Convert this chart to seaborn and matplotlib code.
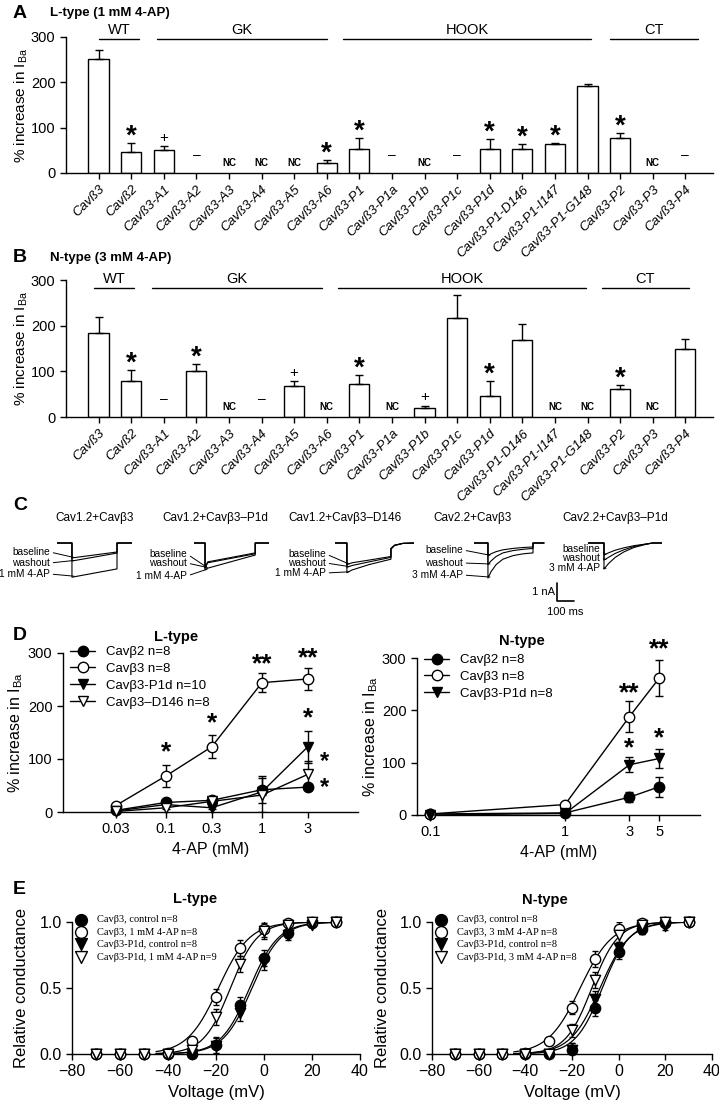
import numpy as np
import pandas as pd
import seaborn as sns
import matplotlib.pyplot as plt

# ---------------- data ----------------
constructs = ['Cavß3', 'Cavß2', 'Cavß3-A1', 'Cavß3-A2', 'Cavß3-A3', 'Cavß3-A4',
              'Cavß3-A5', 'Cavß3-A6', 'Cavß3-P1', 'Cavß3-P1a', 'Cavß3-P1b',
              'Cavß3-P1c', 'Cavß3-P1d', 'Cavß3-P1-D146', 'Cavß3-P1-I147',
              'Cavß3-P1-G148', 'Cavß3-P2', 'Cavß3-P3', 'Cavß3-P4']
nan = np.nan

# A: L-type, 1 mM 4-AP (% increase in IBa, mean and sem)
l_mean = [252, 47, 50, nan, nan, nan, nan, 23, 54, nan, nan, nan, 52, 52, 64, 193, 78, nan, nan]
l_sem = [20, 20, 9, 0, 0, 0, 0, 5, 24, 0, 0, 0, 24, 11, 3, 3, 11, 0, 0]
l_mark = ['', '*', '+', '-', 'NC', 'NC', 'NC', '*', '*', '-', 'NC', '-', '*', '*', '*', '', '*', 'NC', '-']

# B: N-type, 3 mM 4-AP
n_mean = [185, 79, nan, 101, nan, nan, 68, nan, 73, nan, 20, 216, 47, 169, nan, nan, 61, nan, 150]
n_sem = [34, 23, 0, 16, 0, 0, 10, 0, 20, 0, 5, 51, 32, 35, 0, 0, 8, 0, 20]
n_mark = ['', '*', '-', '*', 'NC', '-', '+', 'NC', '*', 'NC', '+', '', '*', '', 'NC', 'NC', '*', 'NC', '']

groups = ['WT', 'GK', 'HOOK', 'CT']
l_group_span = [(0.0, 1.25), (1.8, 7.0), (7.5, 15.1), (15.7, 18.4)]
n_group_span = [(-0.15, 1.1), (1.65, 6.85), (7.35, 14.95), (15.45, 18.1)]

# C: example current traces (time in ms, current in nA)
c_titles = ['Cav1.2+Cavβ3', 'Cav1.2+Cavβ3–P1d', 'Cav1.2+Cavβ3–D146', 'Cav2.2+Cavβ3', 'Cav2.2+Cavβ3–P1d']
c_drug = ['1 mM 4-AP', '1 mM 4-AP', '1 mM 4-AP', '3 mM 4-AP', '3 mM 4-AP']
tr_time = [
    [0, 88, 88, 353, 353, 441],
    [0, 65, 65, 80, 360, 360, 440],
    [0, 70, 70, 100, 200, 329, 329, 350, 400, 465],
    [0, 82, 82, 100, 130, 170, 230, 290, 347, 347, 412],
    [0, 94, 94, 120, 160, 210, 270, 330, 380, 435],
]
tr_base = [
    [0, 0, -0.83, -0.5, 0, 0],
    [0, 0, -1.4, -1.05, -0.55, 0, 0],
    [0, 0, -1.2, -1.1, -0.95, -0.75, -0.3, -0.12, -0.02, 0],
    [0, 0, -0.7, -0.6, -0.48, -0.38, -0.3, -0.25, -0.22, 0, 0],
    [0, 0, -0.67, -0.55, -0.4, -0.27, -0.15, -0.07, 0, 0],
]
tr_wash = [
    [0, 0, -1.0, -0.56, 0, 0],
    [0, 0, -1.4, -1.1, -0.6, 0, 0],
    [0, 0, -1.35, -1.25, -1.05, -0.8, -0.32, -0.13, -0.02, 0],
    [0, 0, -1.2, -1.0, -0.75, -0.55, -0.42, -0.35, -0.3, 0, 0],
    [0, 0, -0.95, -0.8, -0.58, -0.38, -0.2, -0.08, 0, 0],
]
tr_drug = [
    [0, 0, -1.9, -1.44, 0, 0],
    [0, 0, -1.5, -1.4, -0.67, 0, 0],
    [0, 0, -1.65, -1.5, -1.2, -0.9, -0.35, -0.14, -0.02, 0],
    [0, 0, -1.95, -1.6, -1.2, -0.9, -0.7, -0.6, -0.55, 0, 0],
    [0, 0, -1.45, -1.15, -0.8, -0.5, -0.25, -0.1, 0, 0],
]
scale_na = 1
scale_ms = 100

# D: dose response
conc_l = [0.03, 0.1, 0.3, 1, 3]
dl_b2 = [3, 18, 22, 42, 47]
dl_b2_err = [2, 5, 5, 25, 5]
dl_b3 = [12, 68, 123, 244, 251]
dl_b3_err = [3, 20, 22, 18, 20]
dl_p1d = [2, 14, 8, 38, 123]
dl_p1d_err = [1, 3, 3, 5, 30]
dl_d146 = [1, 8, 20, 32, 71]
dl_d146_err = [1, 3, 3, 32, 25]
dl_star_x = [0.1, 0.3, 1, 3, 3, 3, 3]
dl_star_y = [112, 167, 278, 290, 176, 95, 46]
dl_star = ['*', '*', '**', '**', '*', '*', '*']

conc_n = [0.1, 1, 3, 5]
dn_b2 = [2, 4, 34, 54]
dn_b2_err = [1, 1, 10, 19]
dn_b3 = [2, 20, 188, 262]
dn_b3_err = [2, 3, 29, 35]
dn_p1d = [0, 3, 96, 108]
dn_p1d_err = [1, 1, 14, 19]
dn_star_x = [3, 5, 3, 5]
dn_star_y = [233, 316, 128, 147]
dn_star = ['**', '**', '*', '*']

# E: activation curves
volts = [-70, -60, -50, -40, -30, -20, -10, 0, 10, 20, 30]
el_b3_ctrl = [0, 0, 0, 0, 0, 0.07, 0.37, 0.73, 0.92, 0.99, 1.0]
el_b3_drug = [0, 0, 0, 0.01, 0.10, 0.43, 0.80, 0.95, 0.99, 1.0, 1.0]
el_p1d_ctrl = [0, 0, 0, 0, 0, 0.06, 0.31, 0.70, 0.90, 0.98, 1.0]
el_p1d_drug = [0, 0, 0, 0, 0.03, 0.28, 0.68, 0.93, 0.98, 1.0, 1.0]
el_err = [0.01, 0.01, 0.01, 0.01, 0.03, 0.06, 0.06, 0.06, 0.04, 0.02, 0.01]
en_b3_ctrl = [0, 0, 0, 0, 0, 0.03, 0.35, 0.77, 0.95, 0.99, 1.0]
en_b3_drug = [0, 0, 0, 0.01, 0.10, 0.35, 0.72, 0.95, 0.99, 1.0, 1.0]
en_p1d_ctrl = [0, 0, 0, 0, 0, 0.03, 0.42, 0.80, 0.95, 0.97, 1.0]
en_p1d_drug = [0, 0, 0, 0, 0, 0.18, 0.56, 0.90, 0.98, 1.0, 1.0]
en_err = [0.01, 0.01, 0.01, 0.01, 0.03, 0.05, 0.06, 0.05, 0.04, 0.03, 0.01]
# Boltzmann fits: V1/2 (mV), slope k (mV)
el_fit = [(-6, 6.0), (-19, 6.5), (-5, 6.0), (-14, 5.6)]
en_fit = [(-7, 5.8), (-16.5, 6.9), (-8, 6.3), (-11.5, 5.6)]

# ---------------- style ----------------
sns.set_theme(style='ticks', rc={
    'axes.linewidth': 1.0, 'axes.edgecolor': 'black',
    'xtick.major.width': 1.0, 'ytick.major.width': 1.0,
    'xtick.major.size': 4, 'ytick.major.size': 4,
    'xtick.color': 'black', 'ytick.color': 'black',
    'text.color': 'black', 'axes.labelcolor': 'black'})
plt.rcParams['font.family'] = ['Liberation Sans', 'DejaVu Sans']
plt.rcParams['mathtext.fontset'] = 'custom'
plt.rcParams['mathtext.rm'] = 'Liberation Sans'
plt.rcParams['mathtext.it'] = 'Liberation Sans:italic'

W, H = 719, 1104
fig = plt.figure(figsize=(W / 100, H / 100), dpi=100)


def box(x0, y0, x1, y1):
    # pixel box (top-left origin) -> figure fraction rect
    return [x0 / W, 1 - y1 / H, (x1 - x0) / W, (y1 - y0) / H]


def ftext(x, y, s, **kw):
    fig.text(x / W, 1 - y / H, s, **kw)


ylab = r'% increase in I$_{\mathrm{Ba}}$'
narrow = ['Liberation Sans Narrow', 'Liberation Sans']


# ---------------- A and B: bar charts ----------------
def bar_panel(rect, means, sems, marks, spans, gy):
    ax = fig.add_axes(rect)
    df = pd.DataFrame({'construct': constructs, 'value': means}).dropna()
    sns.barplot(data=df, x='construct', y='value', order=constructs, color='white',
                edgecolor='black', linewidth=1.0, width=0.62, errorbar=None,
                saturation=1, ax=ax)
    x = np.arange(len(constructs))
    m = np.array(means, dtype=float)
    e = np.array(sems, dtype=float)
    ok = ~np.isnan(m)
    ax.errorbar(x[ok], m[ok], yerr=[np.zeros(ok.sum()), e[ok]], fmt='none',
                ecolor='black', elinewidth=1.0, capsize=3, capthick=1.0)
    for i, mk in enumerate(marks):
        top = 0 if np.isnan(m[i]) else m[i] + e[i]
        if mk == '*':
            ax.text(i, top + 14, '*', ha='center', va='center', fontsize=20, fontweight='bold')
        elif mk == '+':
            ax.text(i, top + 18, '+', ha='center', va='center', fontsize=11)
        elif mk == 'NC':
            ax.text(i, 22, 'NC', ha='center', va='center', fontsize=7, fontweight='bold', family=narrow)
        elif mk == '-':
            ax.text(i, 40, '–', ha='center', va='center', fontsize=10)
    for name, (s0, s1) in zip(groups, spans):
        ax.plot([s0, s1], [gy, gy], color='black', lw=1.0, clip_on=False)
        ax.text((s0 + s1) / 2, gy + 4, name, ha='center', va='bottom', fontsize=10.5)
    ax.set_xlim(-1, 18.85)
    ax.set_ylim(0, 300)
    ax.set_yticks([0, 100, 200, 300])
    ax.set_xticks(x)
    ax.set_xticklabels(constructs, rotation=45, ha='right', rotation_mode='anchor',
                       fontstyle='italic', fontsize=9.5)
    ax.tick_params(axis='y', labelsize=10.5)
    ax.set_xlabel('')
    ax.set_ylabel(ylab, fontsize=11)
    ax.yaxis.set_label_coords(-0.055, 0.5)
    sns.despine(ax=ax)
    return ax


bar_panel(box(66, 37, 713, 173), l_mean, l_sem, l_mark, l_group_span, 296)
bar_panel(box(66, 280, 713, 417), n_mean, n_sem, n_mark, n_group_span, 282)

ftext(13, 13, 'A', fontsize=14, fontweight='bold', va='center')
ftext(50, 13, 'L-type (1 mM 4-AP)', fontsize=9.5, fontweight='bold', va='center')
ftext(13, 258, 'B', fontsize=14, fontweight='bold', va='center')
ftext(50, 258, 'N-type (3 mM 4-AP)', fontsize=9.5, fontweight='bold', va='center')

# ---------------- C: current traces ----------------
ftext(13, 505, 'C', fontsize=14, fontweight='bold', va='center')
PX_MS = 0.17     # pixels per ms
PX_NA = 18.0     # pixels per nA
HOLD_Y = 543
c_x0 = [57, 194, 335, 474, 588]
c_x1 = [132, 269, 414, 545, 662]
c_lab_x = [50, 187, 326, 463, 600]
c_lab_y = [[552, 563, 574], [554, 563, 576], [554, 563, 573], [550, 563, 575], [549, 558, 568]]
c_title_x = [95, 215, 345, 472, 615]
c_top, c_bot = 533, 585
for k in range(5):
    ax = fig.add_axes(box(c_x0[k], c_top, c_x1[k], c_bot))
    ax.set_xlim(0, (c_x1[k] - c_x0[k]) / PX_MS)
    ax.set_ylim(-(c_bot - HOLD_Y) / PX_NA, (HOLD_Y - c_top) / PX_NA)
    ax.axis('off')
    t = tr_time[k]
    for cur in (tr_base[k], tr_wash[k], tr_drug[k]):
        sns.lineplot(x=t, y=cur, sort=False, estimator=None, color='black', lw=0.8, ax=ax)
    t_on = t[1]
    for cur, lab, ly in zip((tr_base[k], tr_wash[k], tr_drug[k]),
                            ('baseline', 'washout', c_drug[k]), c_lab_y[k]):
        tx = (c_lab_x[k] - c_x0[k]) / PX_MS
        ty = -(ly - HOLD_Y) / PX_NA
        ax.annotate(lab, xy=(t_on + 12, cur[2] * 0.97), xytext=(tx, ty),
                    ha='right', va='center', fontsize=7.3, annotation_clip=False,
                    arrowprops=dict(arrowstyle='-', lw=0.7, color='black',
                                    shrinkA=0, shrinkB=0, relpos=(1, 0.5)))
    ftext(c_title_x[k], 518, c_titles[k], fontsize=8.5, ha='center', va='center')
    if k == 3:
        # scale bar
        sx = (557 - c_x0[k]) / PX_MS
        sy = -(601 - HOLD_Y) / PX_NA
        ax.plot([sx, sx, sx + scale_ms], [sy + scale_na, sy, sy], color='black', lw=1.2, clip_on=False)
        ax.text(sx - 12, sy + scale_na / 2, f'{scale_na} nA', ha='right', va='center', fontsize=8)
        ax.text(sx + scale_ms / 2, sy - 0.35, f'{scale_ms} ms', ha='center', va='top', fontsize=8)

# ---------------- D: dose-response ----------------
ftext(13, 636, 'D', fontsize=14, fontweight='bold', va='center')
ftext(176, 637, 'L-type', fontsize=10.5, fontweight='bold', ha='center', va='center')
ftext(522, 641, 'N-type', fontsize=10.5, fontweight='bold', ha='center', va='center')


def dose_panel(rect, conc, series, xlim, ticklabels, sx, sy, st, dx, leg_xy, ylab_x):
    ax = fig.add_axes(rect)
    ax.set_xscale('log')
    for vals, errs, mk, face, lab in series:
        ax.errorbar(conc, vals, yerr=errs, fmt='none', ecolor='black', elinewidth=1.0,
                    capsize=3, capthick=1.0, zorder=2)
        sns.lineplot(x=conc, y=vals, color='black', lw=1.0, marker=mk, markersize=7.5,
                     markerfacecolor=face, markeredgecolor='black', markeredgewidth=1.0,
                     label=lab, ax=ax, zorder=3, clip_on=False)
    for x, y, s, d in zip(sx, sy, st, dx):
        ax.annotate(s, xy=(x, y), xytext=(d, 0), textcoords='offset points', ha='center',
                    va='center', fontsize=19 if d == 0 else 17, fontweight='bold',
                    annotation_clip=False)
    ax.set_xlim(*xlim)
    ax.set_ylim(0, 300)
    ax.set_yticks([0, 100, 200, 300])
    ax.set_xticks(conc)
    ax.set_xticklabels(ticklabels)
    ax.minorticks_off()
    ax.tick_params(labelsize=10.5)
    ax.set_xlabel('4-AP (mM)', fontsize=11.5)
    ax.set_ylabel(ylab, fontsize=11.5)
    ax.yaxis.set_label_coords(ylab_x, 0.5)
    ax.legend(loc='upper left', bbox_to_anchor=(leg_xy[0] / W, 1 - leg_xy[1] / H),
              bbox_transform=fig.transFigure, frameon=False, fontsize=9.5,
              handlelength=1.9, handletextpad=0.8, labelspacing=0.35, borderpad=0,
              borderaxespad=0)
    sns.despine(ax=ax)
    return ax


dose_panel(box(63, 653, 358, 812), conc_l,
           [(dl_b2, dl_b2_err, 'o', 'black', 'Cavβ2 n=8'),
            (dl_b3, dl_b3_err, 'o', 'white', 'Cavβ3 n=8'),
            (dl_p1d, dl_p1d_err, 'v', 'black', 'Cavβ3-P1d n=10'),
            (dl_d146, dl_d146_err, 'v', 'white', 'Cavβ3–D146 n=8')],
           (0.0085, 10), ['0.03', '0.1', '0.3', '1', '3'],
           dl_star_x, dl_star_y, dl_star, [0, 0, 0, 0, 0, 12, 12], (70, 646), -0.13)
dose_panel(box(417, 658, 700, 815), conc_n,
           [(dn_b2, dn_b2_err, 'o', 'black', 'Cavβ2 n=8'),
            (dn_b3, dn_b3_err, 'o', 'white', 'Cavβ3 n=8'),
            (dn_p1d, dn_p1d_err, 'v', 'black', 'Cavβ3-P1d n=8')],
           (0.08, 10), ['0.1', '1', '3', '5'],
           dn_star_x, dn_star_y, dn_star, [0, 0, 0, 0], (424, 654), -0.13)

# ---------------- E: activation curves ----------------
ftext(13, 890, 'E', fontsize=14, fontweight='bold', va='center')
ftext(195, 899, 'L-type', fontsize=10.5, fontweight='bold', ha='center', va='center')
ftext(545, 900, 'N-type', fontsize=10.5, fontweight='bold', ha='center', va='center')


def act_panel(rect, series, errs, fits, drug, n_last, leg_xy):
    ax = fig.add_axes(rect)
    styles = [('o', 'black', 'Cavβ3, control n=8'),
              ('o', 'white', f'Cavβ3, {drug} n=8'),
              ('v', 'black', 'Cavβ3-P1d, control n=8'),
              ('v', 'white', f'Cavβ3-P1d, {drug} n={n_last}')]
    vfit = np.linspace(-45, 32, 200)
    for vals, (vh, k) in zip(series, fits):
        g = 1 / (1 + np.exp((vh - vfit) / k))
        sns.lineplot(x=vfit, y=g, color='black', lw=0.9, ax=ax, zorder=1)
    for vals, (mk, face, lab) in zip(series, styles):
        ax.errorbar(volts, vals, yerr=errs, fmt='none', ecolor='black', elinewidth=1.0,
                    capsize=2.5, capthick=1.0, zorder=2)
        sns.scatterplot(x=volts, y=vals, marker=mk, s=55, color=face, edgecolor='black',
                        linewidth=1.0, label=lab, ax=ax, zorder=3, clip_on=False)
    ax.set_xlim(-80, 40)
    ax.set_ylim(0, 1.0)
    ax.set_xticks([-80, -60, -40, -20, 0, 20, 40])
    ax.set_yticks([0, 0.5, 1.0])
    ax.set_yticklabels(['0.0', '0.5', '1.0'])
    ax.tick_params(labelsize=11.5)
    ax.set_xlabel('Voltage (mV)', fontsize=12)
    ax.set_ylabel('Relative conductance', fontsize=12)
    ax.yaxis.set_label_coords(-0.15, 0.5)
    ax.legend(loc='upper left', bbox_to_anchor=(leg_xy[0] / W, 1 - leg_xy[1] / H),
              bbox_transform=fig.transFigure, frameon=False,
              prop={'family': 'Liberation Serif', 'size': 7.5},
              handlelength=1.0, handletextpad=1.0, labelspacing=0.3, borderpad=0,
              borderaxespad=0, markerscale=1.15)
    sns.despine(ax=ax)
    return ax


act_panel(box(72, 922, 360, 1054), [el_b3_ctrl, el_b3_drug, el_p1d_ctrl, el_p1d_drug],
          el_err, el_fit, '1 mM 4-AP', 9, (76, 915))
act_panel(box(432, 922, 712, 1054), [en_b3_ctrl, en_b3_drug, en_p1d_ctrl, en_p1d_drug],
          en_err, en_fit, '3 mM 4-AP', 8, (436, 915))

fig.savefig('out.png', dpi=100)
